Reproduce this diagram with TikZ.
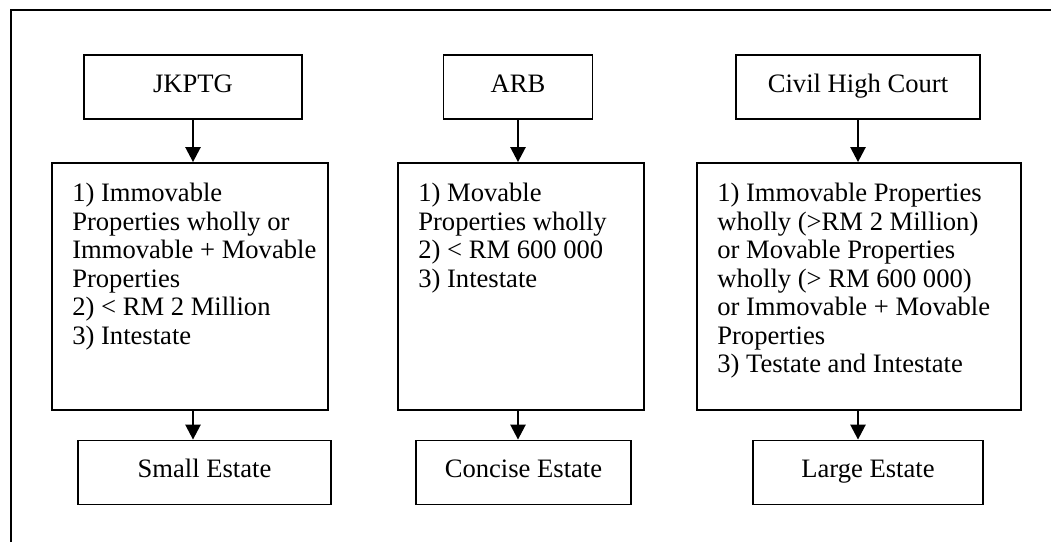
\documentclass[tikz,border=0pt]{standalone}
\usepackage{fontspec}
\setmainfont{Liberation Serif}
\usetikzlibrary{arrows.meta,positioning,calc}
\newcommand{\boxfont}{\fontsize{26.6}{28.5}\selectfont}
\tikzstyle{line} = [draw, line width=2.5pt, ->]
\tikzstyle{court} = [draw, line width=1.8pt, minimum height=64pt, inner sep=0pt,
  text height=17pt, text depth=7pt, font=\boxfont]
\tikzstyle{rule} = [draw, line width=1.8pt, minimum height=247pt, inner sep=0pt]
\tikzstyle{ruletext} = [anchor=north west, align=left, inner sep=0pt, font=\boxfont]
\tikzset{>={Triangle[width=15pt,length=15pt]}}

\begin{document}
\begin{tikzpicture}[x=1pt,y=-1pt]
    \useasboundingbox (0,0) rectangle (1051,542);
    \draw [line width=2.2pt] (11,542) -- (11,10) -- (1051,10);

    \node [court, minimum width=218pt] (jkptg) at (193,87) {JKPTG};
    \node [court, minimum width=149pt] (arb) at (518,87) {ARB};
    \node [court, minimum width=244pt] (civil) at (858,87) {Civil High Court};

    \node [rule, minimum width=276pt] (crit1) at (190,286.5) {};
    \node [rule, minimum width=246pt] (crit2) at (521,286.5) {};
    \node [rule, minimum width=324pt] (crit3) at (859,286.5) {};

    \node [ruletext] (crit1txt) at ($(crit1.north west)+(21,21)$)
        {1) Immovable\\Properties wholly or\\Immovable + Movable\\Properties\\2) < RM 2 Million\\3) Intestate};
    \node [ruletext] (crit2txt) at ($(crit2.north west)+(21,21)$)
        {1) Movable\\Properties wholly\\2) < RM 600 000\\3) Intestate};
    \node [ruletext] (crit3txt) at ($(crit3.north west)+(21,21)$)
        {1) Immovable Properties\\wholly (>RM 2 Million)\\or Movable Properties\\wholly (> RM 600 000)\\or Immovable + Movable\\Properties\\3) Testate and Intestate};

    \node [court, minimum width=253pt] (small) at (204.5,472.5) {Small Estate};
    \node [court, minimum width=215pt] (concise) at (523.5,472.5) {Concise Estate};
    \node [court, minimum width=230pt] (large) at (868,472.5) {Large Estate};

    \draw [line] (jkptg.south) -- (jkptg.south |- crit1.north);
    \draw [line] (arb.south) -- (arb.south |- crit2.north);
    \draw [line] (civil.south) -- (civil.south |- crit3.north);
    \draw [line] (jkptg.south |- crit1.south) -- (jkptg.south |- small.north);
    \draw [line] (arb.south |- crit2.south) -- (arb.south |- concise.north);
    \draw [line] (civil.south |- crit3.south) -- (civil.south |- large.north);
\end{tikzpicture}
\end{document}
